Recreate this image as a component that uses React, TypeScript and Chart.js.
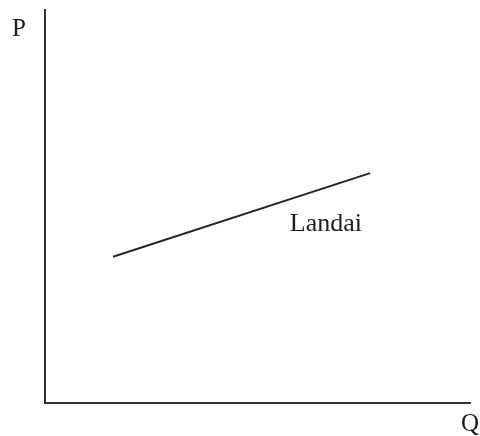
import React, { useEffect, useRef } from "react";
import { Chart, registerables } from "chart.js";

Chart.register(...registerables);

const lineX: number[] = [16, 76.5];
const lineY: number[] = [37.2, 58.5];
const curveLabel = "Landai";
const curveLabelPos: [number, number] = [57.6, 43.8];
const yAxisLabel = "P";
const xAxisLabel = "Q";

const labelPlugin = {
  id: "econLabels",
  afterDraw(chart: any) {
    const { ctx, chartArea, scales } = chart;
    ctx.save();
    ctx.fillStyle = "#1c1c24";
    ctx.textBaseline = "alphabetic";
    ctx.textAlign = "left";
    ctx.font = '25px "Liberation Serif", "DejaVu Serif", serif';
    ctx.fillText(yAxisLabel, chartArea.left - 33, chartArea.top + 26);
    ctx.fillText(xAxisLabel, chartArea.right - 9, chartArea.bottom + 28);
    ctx.font = '26px "Liberation Serif", "DejaVu Serif", serif';
    const px = scales.x.getPixelForValue(curveLabelPos[0]);
    const py = scales.y.getPixelForValue(curveLabelPos[1]);
    ctx.fillText(curveLabel, px, py);
    ctx.restore();
  },
};

export default function App() {
  const ref = useRef<HTMLCanvasElement | null>(null);
  useEffect(() => {
    if (!ref.current) return;
    const chart = new Chart(ref.current, {
      type: "line",
      data: {
        datasets: [
          {
            data: lineX.map((x, i) => ({ x, y: lineY[i] })),
            borderColor: "#262626",
            borderWidth: 2,
            pointRadius: 0,
            fill: false,
            tension: 0,
          },
        ],
      },
      options: {
        animation: false,
        responsive: false,
        maintainAspectRatio: false,
        layout: { padding: { left: 45, top: 10, right: 10, bottom: 33 } },
        plugins: { legend: { display: false }, tooltip: { enabled: false } },
        scales: {
          x: {
            type: "linear",
            min: 0,
            max: 100,
            grid: { display: false, drawTicks: false, tickLength: 0 },
            ticks: { display: false },
            border: { display: true, color: "#333", width: 2 },
          },
          y: {
            type: "linear",
            min: 0,
            max: 100,
            grid: { display: false, drawTicks: false, tickLength: 0 },
            ticks: { display: false },
            border: { display: true, color: "#333", width: 2 },
          },
        },
      },
      plugins: [labelPlugin],
    });
    return () => chart.destroy();
  }, []);
  return (
    <div style={{ position: "fixed", left: 0, top: 0, width: 480, height: 436, background: "#fff" }}>
      <canvas ref={ref} width={480} height={436} style={{ width: 480, height: 436 }} />
    </div>
  );
}
